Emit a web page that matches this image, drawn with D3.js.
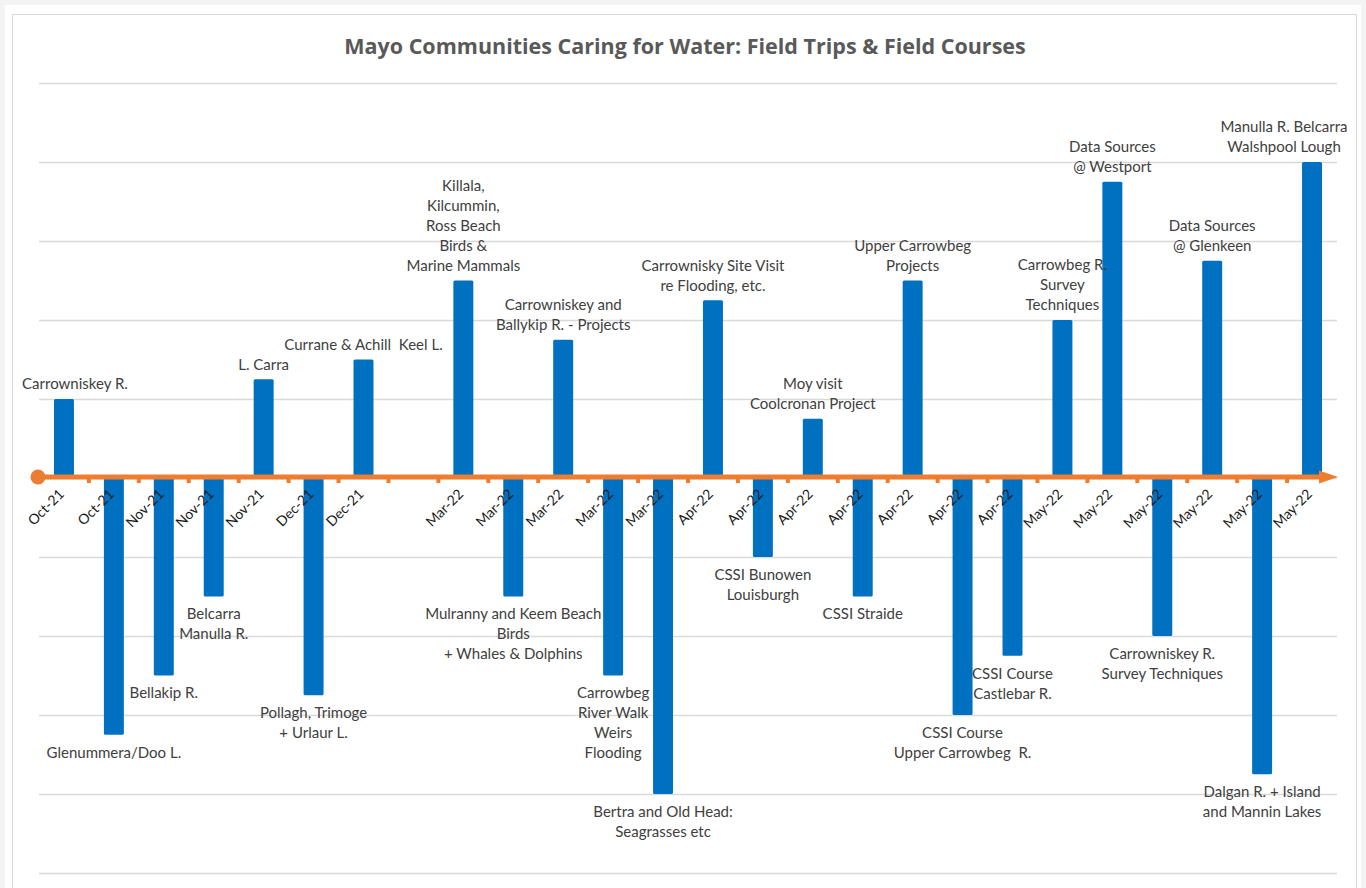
<!DOCTYPE html>
<html>
<head>
<meta charset="utf-8">
<script src="https://cdn.jsdelivr.net/npm/d3@7"></script>
<style>
  body { margin: 0; background: #f3f3f3; }
  svg { display: block; }
  .data-label, .axis-label { white-space: pre; }
</style>
</head>
<body>
<div id="chart"></div>
<script>
// Field trips: one slot per trip, blank slot for the Jan/Feb gap
const categories = ["Oct-21", "Oct-21", "Nov-21", "Nov-21", "Nov-21", "Dec-21", "Dec-21", "",
    "Mar-22", "Mar-22", "Mar-22", "Mar-22", "Mar-22",
    "Apr-22", "Apr-22", "Apr-22", "Apr-22", "Apr-22", "Apr-22", "Apr-22",
    "May-22", "May-22", "May-22", "May-22", "May-22", "May-22"];

const values = [1, -3.25, -2.5, -1.5, 1.25, -2.75, 1.5, null,
    2.5, -1.5, 1.75, -2.5, -4,
    2.25, -1, 0.75, -1.5, 2.5, -3, -2.25,
    2, 3.75, -2, 2.75, -3.75, 4];

const tripNames = [
    "Carrowniskey R.",
    "Glenummera/Doo L.",
    "Bellakip R.",
    "Belcarra\nManulla R.",
    "L. Carra",
    "Pollagh, Trimoge\n+ Urlaur L.",
    "Currane & Achill  Keel L.",
    "",
    "Killala,\nKilcummin,\nRoss Beach\nBirds &\nMarine Mammals",
    "Mulranny and Keem Beach\nBirds\n+ Whales & Dolphins",
    "Carrowniskey and\nBallykip R. - Projects",
    "Carrowbeg\nRiver Walk\nWeirs\nFlooding",
    "Bertra and Old Head:\nSeagrasses etc",
    "Carrownisky Site Visit\nre Flooding, etc.",
    "CSSI Bunowen\nLouisburgh",
    "Moy visit\nCoolcronan Project",
    "CSSI Straide",
    "Upper Carrowbeg\nProjects",
    "CSSI Course\nUpper Carrowbeg  R.",
    "CSSI Course\nCastlebar R.",
    "Carrowbeg R.\nSurvey\nTechniques",
    "Data Sources\n@ Westport",
    "Carrowniskey R.\nSurvey Techniques",
    "Data Sources\n@ Glenkeen",
    "Dalgan R. + Island\nand Mannin Lakes",
    "Manulla R. Belcarra\nWalshpool Lough"
];

const yTicks = [-5, -4, -3, -2, -1, 0, 1, 2, 3, 4, 5];

// labels moved by hand in the original so they stay inside the frame
const labelNudge = { 0: 11, 25: -28 };

const fontFamily = "Lato, 'Open Sans', sans-serif";

function createTimeline() {
    const W = 1366, H = 888;
    const margin = { top: 83, right: 29, bottom: 15, left: 39 };
    const width = W - margin.left - margin.right;
    const height = 873 - margin.top;

    const svg = d3.select("#chart").append("svg")
        .attr("width", W)
        .attr("height", H);

    // page + chart frame
    svg.append("rect")
        .attr("x", 5).attr("y", 5)
        .attr("width", W - 10).attr("height", H)
        .attr("fill", "#fff");
    svg.append("rect")
        .attr("x", 12.5).attr("y", 14.5)
        .attr("width", 1344).attr("height", H)
        .attr("fill", "#fff")
        .attr("stroke", "#d9d9d9");

    svg.append("text")
        .attr("x", 685)
        .attr("y", 46)
        .attr("dy", "0.35em")
        .attr("text-anchor", "middle")
        .style("font-family", "'Open Sans', sans-serif")
        .style("font-size", "21.5px")
        .style("font-weight", "bold")
        .style("fill", "#595959")
        .text("Mayo Communities Caring for Water: Field Trips & Field Courses");

    const g = svg.append("g")
        .attr("transform", `translate(${margin.left}, ${margin.top})`);

    const x = d3.scaleBand()
        .domain(d3.range(categories.length))
        .range([0, width])
        .paddingInner(0.6)
        .paddingOuter(0.3);

    const y = d3.scaleLinear()
        .domain([-5, 5])
        .range([height, 0]);

    // gridlines
    g.append("g")
        .attr("class", "grid")
        .call(d3.axisLeft(y).tickValues(yTicks).tickSize(-width).tickFormat(""))
        .call(s => s.select(".domain").remove())
        .call(s => s.selectAll("line").attr("stroke", "#d9d9d9").attr("stroke-width", 1.3));

    // bars
    const rows = values.map((v, i) => ({ i, v, name: tripNames[i] })).filter(d => d.v !== null);

    g.selectAll(".bar")
        .data(rows)
        .enter()
        .append("rect")
        .attr("class", "bar")
        .attr("x", d => x(d.i))
        .attr("y", d => y(Math.max(0, d.v)))
        .attr("width", x.bandwidth())
        .attr("height", d => Math.abs(y(d.v) - y(0)))
        .attr("rx", 1.5)
        .attr("fill", "#0070c0");

    // orange timeline axis
    const y0 = y(0) - 1;
    const step = x.step();
    const axisColor = "#ed7d31";
    const boundaries = d3.range(1, categories.length).map(i => x(i) - (x.step() - x.bandwidth()) / 2);

    g.selectAll(".axis-tick")
        .data(boundaries)
        .enter()
        .append("line")
        .attr("class", "axis-tick")
        .attr("x1", d => d).attr("x2", d => d)
        .attr("y1", y0).attr("y2", y0 + 6)
        .attr("stroke", axisColor)
        .attr("stroke-width", 4);

    g.append("line")
        .attr("x1", -1).attr("x2", width - 17)
        .attr("y1", y0).attr("y2", y0)
        .attr("stroke", axisColor)
        .attr("stroke-width", 5);

    g.append("circle")
        .attr("cx", -1).attr("cy", y0)
        .attr("r", 7.5)
        .attr("fill", axisColor);

    g.append("path")
        .attr("d", `M${width - 18},${y0 - 6.5}L${width + 1},${y0}L${width - 18},${y0 + 6.5}Z`)
        .attr("fill", axisColor);

    // category labels, rotated
    g.append("g")
        .attr("class", "x-axis")
        .attr("transform", `translate(0, ${y0})`)
        .call(d3.axisBottom(x).tickSize(0).tickFormat(i => categories[i]))
        .call(s => s.select(".domain").remove())
        .selectAll("text")
        .attr("class", "axis-label")
        .style("font-family", fontFamily)
        .style("font-size", "14px")
        .style("fill", "#1a1a1a")
        .style("text-anchor", "end")
        .attr("x", 0).attr("y", 0)
        .attr("dy", "0")
        .attr("transform", `translate(${step * 0.1 - 4}, 18) rotate(-45)`);

    // data labels above / below the bars
    const lineH = 20;
    g.selectAll(".data-label")
        .data(rows)
        .enter()
        .append("text")
        .attr("class", "data-label")
        .attr("text-anchor", "middle")
        .style("font-family", fontFamily)
        .style("font-size", "15px")
        .style("fill", "#404040")
        .each(function(d) {
            const lines = d.name.split("\n");
            const cx = x(d.i) + x.bandwidth() / 2 + (labelNudge[d.i] || 0);
            const firstY = d.v > 0
                ? y(d.v) - 15 - (lines.length - 1) * lineH
                : y(d.v) + 17.5;
            d3.select(this).selectAll("tspan")
                .data(lines)
                .enter()
                .append("tspan")
                .attr("x", cx)
                .attr("y", (l, k) => firstY + k * lineH)
                .attr("dy", "0.35em")
                .text(l => l);
        });
}

createTimeline();
</script>
</body>
</html>
